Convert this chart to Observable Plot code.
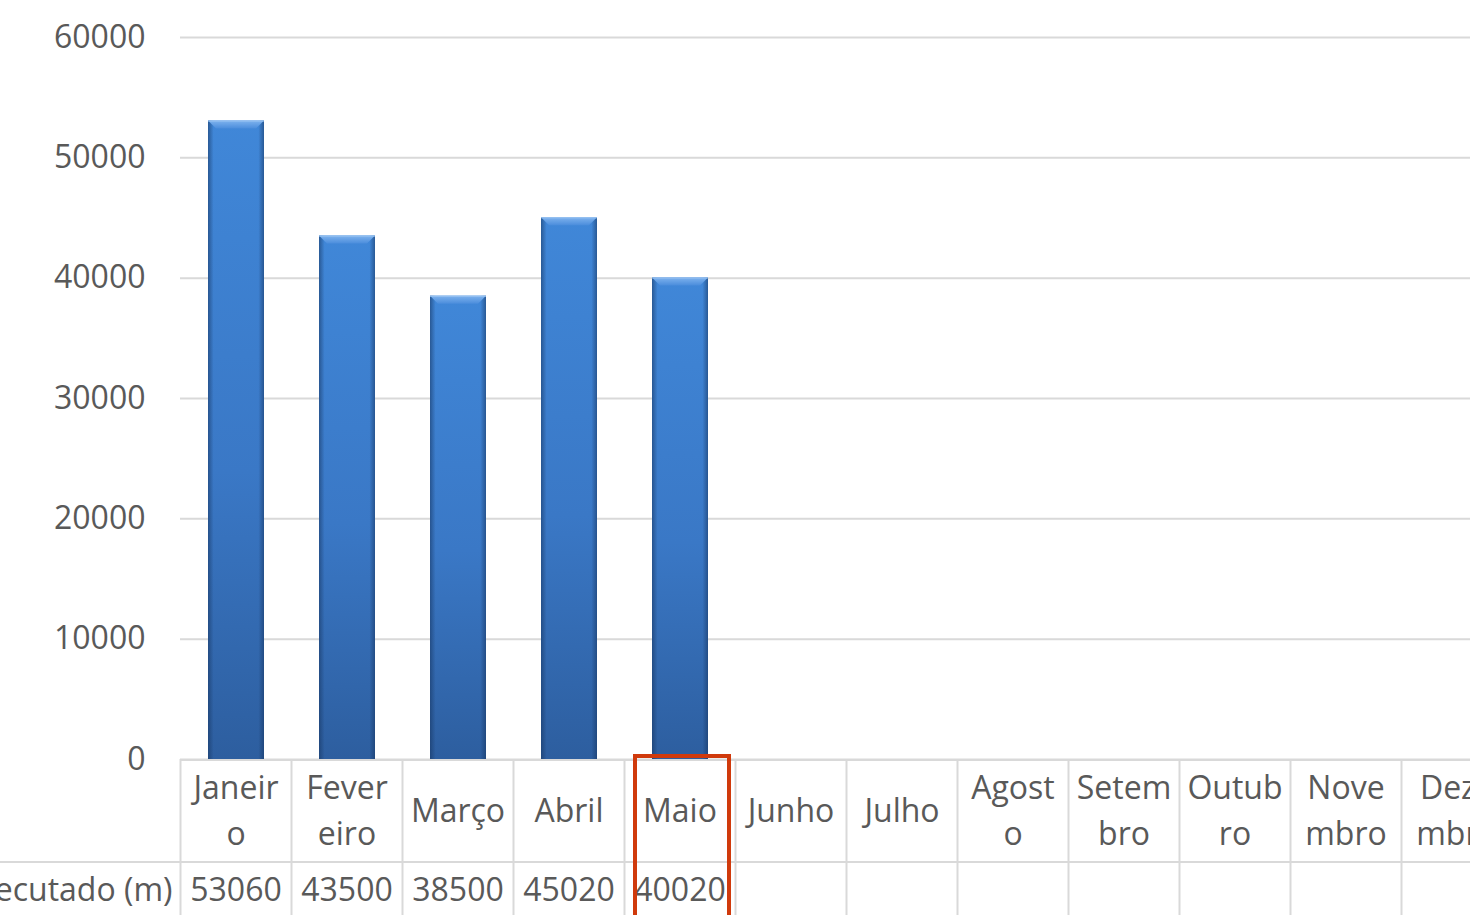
<!DOCTYPE html>
<html><head><meta charset="utf-8">
<script src="https://cdn.jsdelivr.net/npm/d3@7"></script>
<script src="https://cdn.jsdelivr.net/npm/@observablehq/plot@0.6"></script>
<style>
html,body{margin:0;padding:0;background:#fff;overflow:hidden;}
#chart svg{display:block;overflow:hidden;max-width:none;}
</style></head><body><div id="chart"></div>
<script>
// ---- data ----
const months = ["Janeiro","Fevereiro","Março","Abril","Maio","Junho","Julho","Agosto","Setembro","Outubro","Novembro","Dezembro"];
const monthLabels = ["Janeir\no","Fever\neiro","Março","Abril","Maio","Junho","Julho","Agost\no","Setem\nbro","Outub\nro","Nove\nmbro","Deze\nmbro"];
const executado = [53060,43500,38500,45020,40020,null,null,null,null,null,null,null];
const seriesName = "Executado (m)";
const highlightMonth = "Maio";
const yTicks = [0,10000,20000,30000,40000,50000,60000];

const rows = months.map((m,i)=>({month:m, label:monthLabels[i], value:executado[i]}));
const bars = rows.filter(d=>d.value!=null);

const FONT = "'Open Sans', 'Liberation Sans', sans-serif";
const TXT = "#595959";
const GRID = "#d9d9d9";

function bandInfo(x){
  const step = x(months[1]) - x(months[0]);
  const bw = typeof x.bandwidth === "function" ? x.bandwidth() : step*0.5;
  return {step, bw, gap:(step-bw)/2};
}

// defs (gradients)
function defsMark(){
  const svg = d3.create("svg:defs");
  const g = svg.append("linearGradient").attr("id","barGrad").attr("x1",0).attr("x2",0).attr("y1",0).attr("y2",1);
  g.append("stop").attr("offset","0%").attr("stop-color","#4087d8");
  g.append("stop").attr("offset","55%").attr("stop-color","#3a78c6");
  g.append("stop").attr("offset","100%").attr("stop-color","#2d5e9f");
  const e = svg.append("linearGradient").attr("id","barEdge").attr("x1",0).attr("x2",1).attr("y1",0).attr("y2",0);
  e.append("stop").attr("offset","0%").attr("stop-color","#16345f").attr("stop-opacity",0.55);
  e.append("stop").attr("offset","10%").attr("stop-color","#16345f").attr("stop-opacity",0.0);
  e.append("stop").attr("offset","90%").attr("stop-color","#16345f").attr("stop-opacity",0.0);
  e.append("stop").attr("offset","100%").attr("stop-color","#16345f").attr("stop-opacity",0.55);
  const b = svg.append("linearGradient").attr("id","bevel").attr("x1",0).attr("x2",0).attr("y1",0).attr("y2",1);
  b.append("stop").attr("offset","0%").attr("stop-color","#7fb3ee");
  b.append("stop").attr("offset","100%").attr("stop-color","#4b8ddc");
  const f = svg.append("filter").attr("id","shadow").attr("x","-20%").attr("y","-5%").attr("width","140%").attr("height","110%");
  f.append("feDropShadow").attr("dx",0).attr("dy",0).attr("stdDeviation",2).attr("flood-color","#000").attr("flood-opacity",0.35);
  return svg.node();
}

// bevel on top of each bar
function bevelMark(index, scales){
  const x = scales.x, y = scales.y;
  const {bw} = bandInfo(x);
  const g = d3.create("svg:g");
  const d = 8;
  for (const r of bars){
    const x0 = x(r.month), x1 = x0 + bw, y0 = y(r.value);
    g.append("polygon")
      .attr("points", `${x0},${y0} ${x1},${y0} ${x1-d},${y0+d} ${x0+d},${y0+d}`)
      .attr("fill","url(#bevel)");
    g.append("line").attr("x1",x0).attr("x2",x1).attr("y1",y0+0.5).attr("y2",y0+0.5)
      .attr("stroke","#9cc5f2").attr("stroke-width",1);
  }
  return g.node();
}

// data table below the axis
function tableMark(index, scales, values, dims){
  const x = scales.x, y = scales.y;
  const {step, bw, gap} = bandInfo(x);
  const g = d3.create("svg:g").attr("font-family",FONT).attr("font-size",32).attr("fill",TXT);
  const top = y(0);
  const headerH = 103;
  const mid = top + headerH;
  const bottom = dims.height + 20;
  const left = x(months[0]) - gap;
  const right = x(months[months.length-1]) + bw + gap;
  // horizontal lines
  g.append("line").attr("x1",left).attr("x2",right).attr("y1",top+1).attr("y2",top+1).attr("stroke",GRID).attr("stroke-width",2);
  g.append("line").attr("x1",0).attr("x2",right).attr("y1",mid).attr("y2",mid).attr("stroke",GRID).attr("stroke-width",2);
  // vertical lines
  const edges = months.map(m => x(m) - gap).concat([right]);
  for (const ex of edges){
    g.append("line").attr("x1",ex).attr("x2",ex).attr("y1",top).attr("y2",bottom).attr("stroke",GRID).attr("stroke-width",2);
  }
  // header labels
  const lh = 46;
  const hc = (top + mid)/2;
  for (const r of rows){
    const cx = x(r.month) + bw/2;
    const lines = r.label.split("\n");
    lines.forEach((t,i)=>{
      g.append("text").attr("x",cx).attr("y", hc + (i - (lines.length-1)/2)*lh)
        .attr("dy","0.36em").attr("text-anchor","middle").text(t);
    });
  }
  // value row
  const vc = mid + 27;
  g.append("text").attr("x",left-8).attr("y",vc).attr("dy","0.36em").attr("text-anchor","end").text(seriesName);
  for (const r of rows){
    if (r.value == null) continue;
    g.append("text").attr("x",x(r.month)+bw/2).attr("y",vc).attr("dy","0.36em").attr("text-anchor","middle").text(String(r.value));
  }
  // highlight box
  const hx = x(highlightMonth) + bw/2 + 2;
  const hw = 94;
  g.append("path")
    .attr("d",`M${hx-hw/2},${bottom} V${top-3} H${hx+hw/2} V${bottom}`)
    .attr("fill","none").attr("stroke","#d03a0c").attr("stroke-width",4);
  return g.node();
}

const chart = Plot.plot({
  width: 1470,
  height: 915,
  marginTop: 37,
  marginBottom: 156,
  marginLeft: 180,
  marginRight: 0,
  style: {fontFamily: FONT, background: "#fff", overflow: "hidden"},
  x: {type: "band", domain: months, range: [180, 1512], paddingInner: 0.5, paddingOuter: 0.25, axis: null},
  y: {domain: [0, 60000], axis: null},
  marks: [
    defsMark,
    Plot.gridY(yTicks, {stroke: GRID, strokeOpacity: 1, strokeWidth: 2}),
    Plot.axisY(yTicks, {tickSize: 0, tickPadding: 35, fontSize: 32, fill: TXT, tickFormat: d3.format("d"), label: null}),
    Plot.barY(bars, {x: "month", y: "value", fill: "url(#barGrad)", filter: null, style: {filter: "url(#shadow)"}}),
    Plot.barY(bars, {x: "month", y: "value", fill: "url(#barEdge)"}),
    bevelMark,
    tableMark
  ]
});
document.getElementById("chart").appendChild(chart);
</script>
</body></html>
